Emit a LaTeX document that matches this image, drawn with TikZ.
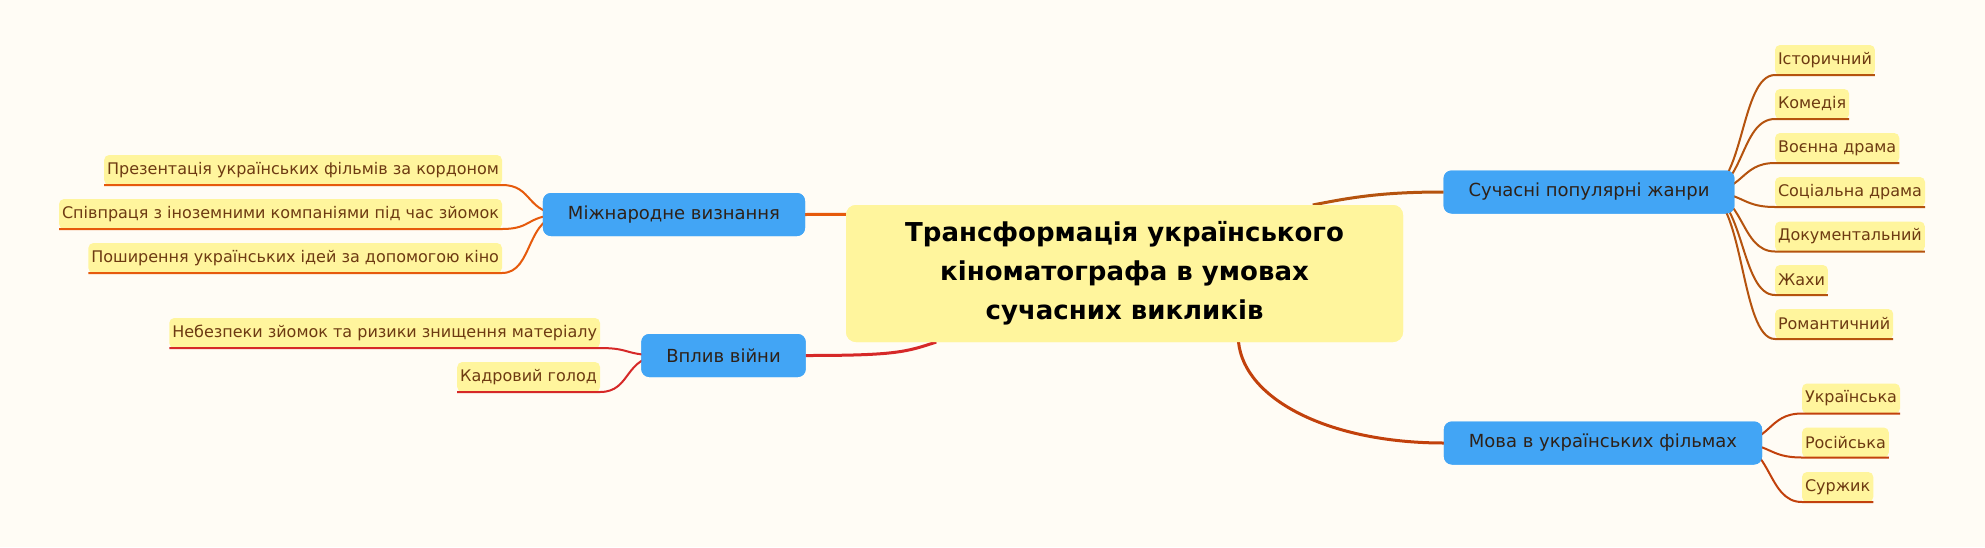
\documentclass[tikz,border=0pt]{standalone}
\usepackage{fontspec}
\setmainfont{DejaVu Sans}
\definecolor{bgcream}{HTML}{FFFCF5}
\definecolor{leafyellow}{HTML}{FFF59D}
\definecolor{leaftext}{HTML}{6D3A12}
\definecolor{branchblue}{HTML}{42A5F5}
\definecolor{branchtext}{HTML}{2E2118}
\definecolor{mezhorange}{HTML}{E65A0C}
\definecolor{vplyvred}{HTML}{D62828}
\definecolor{zhanrbrown}{HTML}{B5530E}
\definecolor{movarust}{HTML}{C2410C}
\begin{document}
\begin{tikzpicture}[x=1pt, y=-1pt,
        rootnode/.style={fill=leafyellow, rounded corners=10pt, outer sep=0pt,
            minimum width=557pt, minimum height=137pt, align=center,
            font=\fontsize{26}{39}\selectfont\bfseries},
        branchnode/.style={fill=branchblue, text=branchtext, rounded corners=8pt,
            outer sep=0pt, minimum height=43pt, inner xsep=25pt,
            font=\fontsize{18}{22}\selectfont},
        leafnode/.style={fill=leafyellow, text=leaftext, rounded corners=5pt,
            outer sep=0pt, minimum height=30pt, inner xsep=3pt,
            font=\fontsize{16}{19}\selectfont},
        rootline/.style={line width=3pt},
        leafline/.style={line width=2pt}
    ]
    \fill [bgcream] (0,0) rectangle (1985,547);
    \useasboundingbox (0,0) rectangle (1985,547);

    % main topic and branches
    \node [rootnode] (root) at (1124.5,273.5)
        {Трансформація українського\\кіноматографа в умовах\\сучасних викликів};
    \node [branchnode] (mezh) at (674,214.5) {Міжнародне визнання};
    \node [branchnode] (vplyv) at (723.5,355.5) {Вплив війни};
    \node [branchnode] (zhanry) at (1589,192) {Сучасні популярні жанри};
    \node [branchnode] (mova) at (1603,443) {Мова в українських фільмах};

    % leaves on the left
    \node [leafnode, anchor=east] (prez) at (502,170) {Презентація українських фільмів за кордоном};
    \node [leafnode, anchor=east] (spiv) at (502,214) {Співпраця з іноземними компаніями під час зйомок};
    \node [leafnode, anchor=east] (posh) at (502,258) {Поширення українських ідей за допомогою кіно};
    \node [leafnode, anchor=east] (nebez) at (600,333) {Небезпеки зйомок та ризики знищення матеріалу};
    \node [leafnode, anchor=east] (kadr) at (600,377) {Кадровий голод};

    % leaves on the right
    \node [leafnode, anchor=west] (istor) at (1775,60) {Історичний};
    \node [leafnode, anchor=west] (komed) at (1775,104) {Комедія};
    \node [leafnode, anchor=west] (voen) at (1775,148) {Воєнна драма};
    \node [leafnode, anchor=west] (social) at (1775,192) {Соціальна драма};
    \node [leafnode, anchor=west] (docum) at (1775,236.5) {Документальний};
    \node [leafnode, anchor=west] (zhakh) at (1775,280) {Жахи};
    \node [leafnode, anchor=west] (roman) at (1775,324) {Романтичний};
    \node [leafnode, anchor=west] (ukr) at (1802,398.5) {Українська};
    \node [leafnode, anchor=west] (ros) at (1802,442.5) {Російська};
    \node [leafnode, anchor=west] (surzh) at (1802,487) {Суржик};

    % connectors
    \draw [rootline, mezhorange] (root.168) .. controls +(-20,0) and +(20,0) .. (mezh.east);
    \draw [rootline, vplyvred] (root.200) .. controls +(-30,10) and +(90,0) .. (vplyv.east);
    \draw [rootline, zhanrbrown] (root.20) .. controls +(40,-8) and +(-60,0) .. (zhanry.west);
    \draw [rootline, movarust] (root.-31) .. controls +(6,58) and +(-114,0) .. (mova.west);

    \foreach \leaf in {prez, spiv, posh}
        \draw [leafline, mezhorange] ([xshift=22pt]mezh.west)
            .. controls +(-40,0) and +(32,0) .. (\leaf.south east) -- (\leaf.south west);
    \foreach \leaf in {nebez, kadr}
        \draw [leafline, vplyvred] ([xshift=22pt]vplyv.west)
            .. controls +(-40,0) and +(32,0) .. (\leaf.south east) -- (\leaf.south west);
    \foreach \leaf in {istor, komed, voen, social, docum, zhakh, roman}
        \draw [leafline, zhanrbrown] ([xshift=-30pt]zhanry.east)
            .. controls +(40,0) and +(-35,0) .. (\leaf.south west) -- (\leaf.south east);
    \foreach \leaf in {ukr, ros, surzh}
        \draw [leafline, movarust] ([xshift=-30pt]mova.east)
            .. controls +(40,0) and +(-35,0) .. (\leaf.south west) -- (\leaf.south east);

    % boxes again, over the connector ends
    \node [rootnode] at (root) {Трансформація українського\\кіноматографа в умовах\\сучасних викликів};
    \node [branchnode] at (mezh) {Міжнародне визнання};
    \node [branchnode] at (vplyv) {Вплив війни};
    \node [branchnode] at (zhanry) {Сучасні популярні жанри};
    \node [branchnode] at (mova) {Мова в українських фільмах};
\end{tikzpicture}
\end{document}
